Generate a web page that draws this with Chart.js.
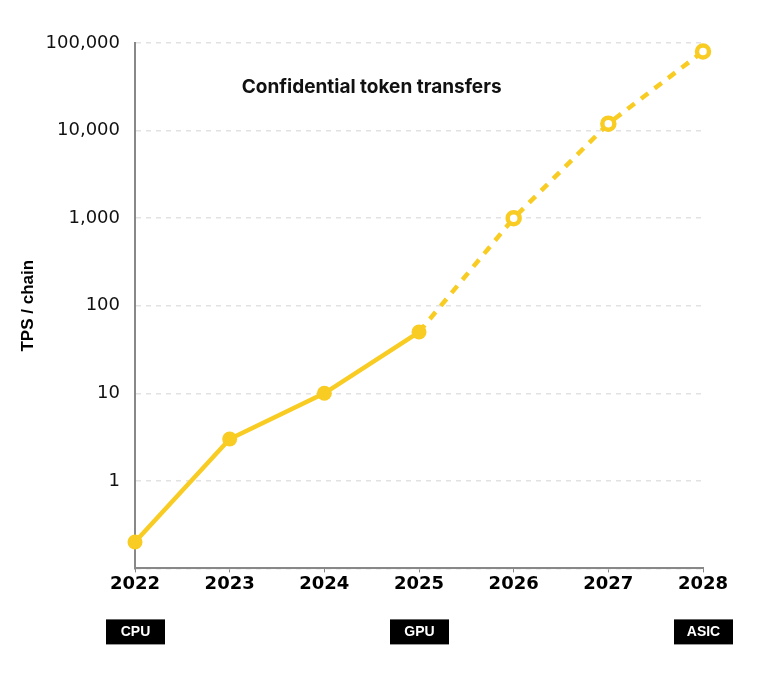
<!DOCTYPE html>
<html>
<head>
<meta charset="utf-8">
<script src="https://cdn.jsdelivr.net/npm/chart.js@4"></script>
<style>
  html, body { margin: 0; padding: 0; background: #fff; }
  #wrap { width: 768px; height: 678px; }
</style>
</head>
<body>
<div id="wrap"><canvas id="tps-chart"></canvas></div>
<script>
const years = ["2022", "2023", "2024", "2025", "2026", "2027", "2028"];
const tpsValues = [0.2, 3, 10, 50, 1000, 12000, 80000];
const hardware = ["CPU", "", "", "GPU", "", "", "ASIC"];
const yTicks = [0.1, 1, 10, 100, 1000, 10000, 100000];
const chartTitle = "Confidential token transfers";
const projectedFrom = 3; // index where the dashed projection starts

const yellow = "#F8CC22";

// draws the title inside the plot and the hardware boxes under the years
const extrasPlugin = {
  id: "extras",
  afterDraw(chart) {
    const c = chart.ctx;
    const x = chart.scales.x;
    const y = chart.scales.y;
    c.save();
    c.fillStyle = "#111";
    c.font = "bold 19px Inter";
    c.textAlign = "center";
    c.textBaseline = "middle";
    c.fillText(chartTitle, x.getPixelForValue(2.5), y.getPixelForValue(Math.sqrt(1e9)));

    const boxY = chart.chartArea.bottom + 51;
    c.font = "bold 14px 'Liberation Sans'";
    hardware.forEach((hw, i) => {
      if (!hw) return;
      const cx = x.getPixelForValue(i);
      c.fillStyle = "#000";
      c.fillRect(cx - 29, boxY, 59, 25);
      c.fillStyle = "#fff";
      c.fillText(hw, cx + 0.5, boxY + 13);
    });
    c.restore();
  },
};

new Chart(document.getElementById("tps-chart"), {
  type: "line",
  data: {
    labels: years,
    datasets: [
      {
        data: tpsValues,
        borderColor: yellow,
        borderWidth: 4.5,
        pointRadius: (ctx) => (ctx.dataIndex > projectedFrom ? 6 : 7.5),
        pointHoverRadius: (ctx) => (ctx.dataIndex > projectedFrom ? 6 : 7.5),
        pointBorderWidth: (ctx) => (ctx.dataIndex > projectedFrom ? 4.5 : 0),
        pointBackgroundColor: (ctx) => (ctx.dataIndex > projectedFrom ? "#fff" : yellow),
        pointBorderColor: yellow,
        segment: {
          borderDash: (ctx) => (ctx.p0DataIndex >= projectedFrom ? [9, 8] : undefined),
        },
        tension: 0,
        clip: false,
      },
    ],
  },
  options: {
    responsive: true,
    maintainAspectRatio: false,
    animation: false,
    layout: {
      padding: { top: 43, right: 65, bottom: 82, left: 14 },
    },
    plugins: {
      legend: { display: false },
      tooltip: { enabled: false },
    },
    scales: {
      x: {
        type: "category",
        offset: false,
        border: { color: "#888", width: 2 },
        grid: { drawOnChartArea: false, color: "#888", tickLength: 4 },
        ticks: {
          color: "#000",
          padding: 1,
          font: { family: "'DejaVu Sans'", size: 18, weight: "bold" },
        },
      },
      y: {
        type: "logarithmic",
        min: 0.1,
        max: 100000,
        afterBuildTicks: (axis) => {
          axis.ticks = yTicks.map((v) => ({ value: v }));
        },
        afterFit: (axis) => {
          axis.width = 121;
        },
        border: { color: "#888", width: 2, dash: [5, 5] },
        grid: {
          color: "#e2e2e2",
          lineWidth: 1.5,
          drawTicks: false,
        },
        ticks: {
          color: "#111",
          padding: 15,
          font: { family: "'DejaVu Sans'", size: 18 },
          callback: (v) => (v < 1 ? "" : Number(v).toLocaleString("en-US")),
        },
        title: {
          display: true,
          text: "TPS / chain",
          color: "#000",
          font: { family: "'Liberation Sans'", size: 17, weight: "bold" },
          padding: { bottom: 8 },
        },
      },
    },
  },
  plugins: [extrasPlugin],
});
</script>
</body>
</html>
